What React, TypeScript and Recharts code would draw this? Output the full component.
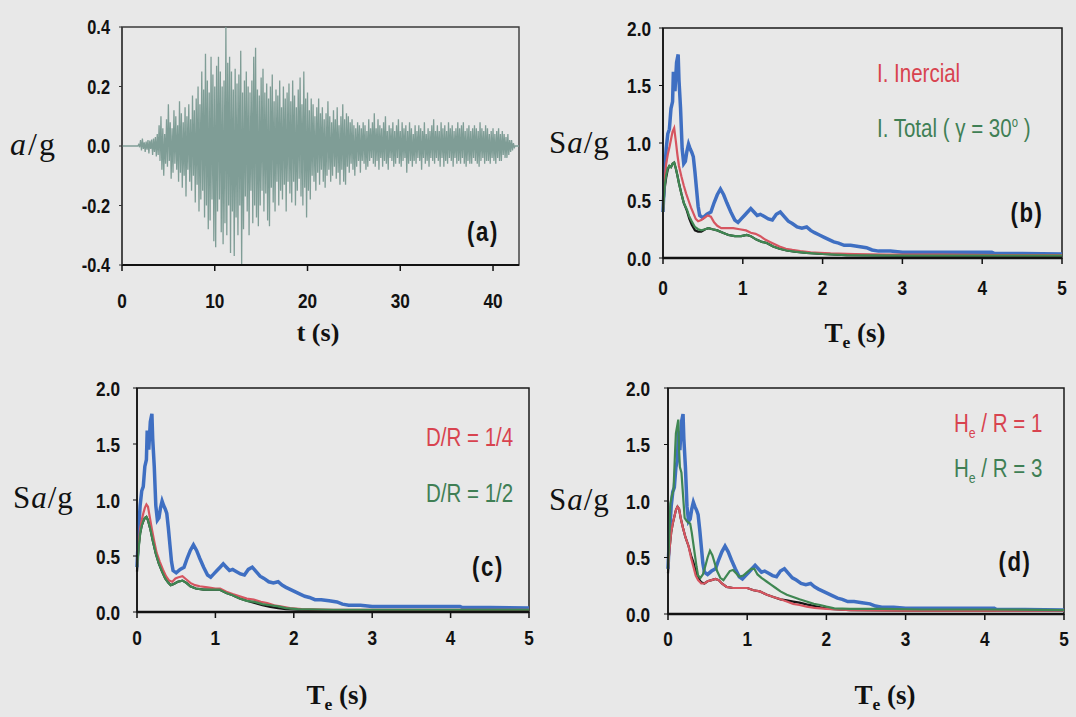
import { Line, LineChart, ReferenceArea, XAxis, YAxis } from "recharts";

const sans = "'Liberation Sans', Arial, sans-serif";
const serif = "'Liberation Serif', 'DejaVu Serif', serif";
const NARROW = 0.82; // Liberation Sans squeezed to look like Arial Narrow

// (a) ground acceleration, a/g, sampled every 0.1 s from t = 0
const accelStep = 0.1;
const accelValues = [
  0, 0, 0, 0, 0, 0, 0, 0, 0, 0, 0, 0, 0, 0, 0, 0, 0, 0, 0.005, -0.004,
  0.02, -0.015, 0.025, -0.01, 0.012, -0.02, 0.015, -0.012, 0.02, -0.025, 0.018, -0.01, 0.022, -0.03, 0.025, -0.02, 0.03, -0.035, 0.04, -0.03,
  0.07, -0.05, 0.1, -0.08, 0.06, -0.1, 0.04, -0.06, 0.09, -0.07, 0.14, -0.05, 0.08, -0.11, 0.06, -0.09, 0.12, -0.06, 0.1, -0.08,
  0.07, -0.12, 0.15, -0.09, 0.11, -0.14, 0.08, -0.1, 0.13, -0.17, 0.1, -0.08, 0.14, -0.12, 0.09, -0.15, 0.17, -0.1, 0.12, -0.19,
  0.16, -0.13, 0.2, -0.22, 0.14, -0.18, 0.25, -0.15, 0.19, -0.24, 0.31, -0.2, 0.22, -0.28, 0.18, -0.25, 0.3, -0.18, 0.24, -0.32,
  0.2, -0.34, 0.27, -0.22, 0.3, -0.18, 0.25, -0.29, 0.2, -0.33, 0.22, -0.26, 0.4, -0.3, 0.28, -0.2, 0.3, -0.36, 0.25, -0.22,
  0.19, -0.37, 0.26, -0.24, 0.21, -0.3, 0.24, -0.2, 0.32, -0.4, 0.18, -0.28, 0.22, -0.17, 0.25, -0.22, 0.2, -0.3, 0.18, -0.15,
  0.22, -0.26, 0.3, -0.2, 0.33, -0.24, 0.19, -0.27, 0.17, -0.2, 0.23, -0.15, 0.26, -0.22, 0.18, -0.16, 0.21, -0.25, 0.16, -0.27,
  0.2, -0.14, 0.24, -0.19, 0.15, -0.22, 0.19, -0.12, 0.17, -0.2, 0.22, -0.15, 0.13, -0.18, 0.2, -0.13, 0.16, -0.22, 0.18, -0.12,
  0.21, -0.16, 0.15, -0.19, 0.22, -0.12, 0.17, -0.2, 0.13, -0.15, 0.19, -0.11, 0.23, -0.17, 0.14, -0.2, 0.25, -0.14, 0.16, -0.24,
  0.18, -0.15, 0.12, -0.18, 0.16, -0.1, 0.14, -0.12, 0.1, -0.15, 0.13, -0.09, 0.16, -0.13, 0.11, -0.08, 0.13, -0.12, 0.09, -0.14,
  0.11, -0.1, 0.15, -0.08, 0.1, -0.12, 0.08, -0.1, 0.12, -0.07, 0.09, -0.11, 0.13, -0.09, 0.07, -0.13, 0.1, -0.08, 0.14, -0.12,
  0.09, -0.13, 0.11, -0.07, 0.1, -0.09, 0.08, -0.06, 0.09, -0.08, 0.07, -0.1, 0.06, -0.07, 0.08, -0.05, 0.07, -0.09, 0.06, -0.05,
  0.08, -0.06, 0.07, -0.08, 0.05, -0.07, 0.09, -0.05, 0.06, -0.04, 0.08, -0.06, 0.11, -0.07, 0.06, -0.05, 0.09, -0.08, 0.07, -0.04,
  0.06, -0.07, 0.08, -0.05, 0.1, -0.06, 0.05, -0.08, 0.07, -0.04, 0.06, -0.05, 0.08, -0.07, 0.05, -0.06, 0.07, -0.04, 0.09, -0.06,
  0.05, -0.07, 0.08, -0.05, 0.06, -0.04, 0.07, -0.09, 0.05, -0.06, 0.08, -0.05, 0.06, -0.07, 0.04, -0.05, 0.07, -0.06, 0.05, -0.04,
  0.07, -0.05, 0.06, -0.08, 0.05, -0.04, 0.08, -0.06, 0.04, -0.05, 0.06, -0.07, 0.05, -0.04, 0.07, -0.05, 0.09, -0.06, 0.05, -0.04,
  0.07, -0.05, 0.05, -0.07, 0.08, -0.04, 0.06, -0.07, 0.07, -0.05, 0.05, -0.06, 0.08, -0.04, 0.06, -0.05, 0.07, -0.07, 0.05, -0.04,
  0.06, -0.06, 0.08, -0.05, 0.06, -0.06, 0.07, -0.04, 0.08, -0.06, 0.05, -0.07, 0.06, -0.05, 0.07, -0.06, 0.05, -0.06, 0.06, -0.04,
  0.07, -0.05, 0.06, -0.06, 0.05, -0.07, 0.08, -0.05, 0.06, -0.04, 0.05, -0.06, 0.07, -0.05, 0.06, -0.05, 0.04, -0.06, 0.05, -0.04,
  0.06, -0.05, 0.04, -0.06, 0.05, -0.04, 0.06, -0.05, 0.04, -0.05, 0.05, -0.03, 0.04, -0.04, 0.03, -0.04, 0.04, -0.03, 0.02, -0.02,
  0.02, -0.015, 0.01, -0.005, 0, 0, 0, 0, 0,
];
const accelTicksX = [0, 10, 20, 30, 40];
const accelTicksY = [-0.4, -0.2, 0, 0.2, 0.4];

const periodTicks = [0, 1, 2, 3, 4, 5];
const saTicks = [0, 0.5, 1, 1.5, 2];

// spectra: [Te (s), Sa/g]
const blueSa: [number, number][] = [
  [0, 0.4], [0.02, 0.72], [0.04, 0.95], [0.06, 1.08], [0.08, 1.12], [0.1, 1.3], [0.12, 1.36], [0.13, 1.62],
  [0.15, 1.45], [0.17, 1.7], [0.19, 1.77], [0.2, 1.55], [0.22, 1.3], [0.24, 0.95], [0.26, 0.82], [0.28, 0.84],
  [0.3, 0.93], [0.32, 0.99], [0.34, 0.95], [0.36, 0.92], [0.38, 0.88], [0.4, 0.75], [0.42, 0.6], [0.44, 0.45],
  [0.46, 0.37], [0.5, 0.35], [0.55, 0.38], [0.6, 0.4], [0.64, 0.48], [0.68, 0.55], [0.72, 0.6], [0.76, 0.55],
  [0.8, 0.48], [0.85, 0.4], [0.9, 0.33], [0.94, 0.31], [0.98, 0.34], [1.02, 0.37], [1.06, 0.4], [1.1, 0.43],
  [1.14, 0.4], [1.18, 0.37], [1.22, 0.38], [1.27, 0.36], [1.32, 0.34], [1.37, 0.33], [1.42, 0.38], [1.47, 0.4],
  [1.52, 0.36], [1.57, 0.32], [1.62, 0.3], [1.68, 0.27], [1.74, 0.26], [1.8, 0.27], [1.85, 0.24], [1.9, 0.22],
  [1.96, 0.2], [2.02, 0.18], [2.08, 0.16], [2.14, 0.14], [2.2, 0.13], [2.27, 0.11], [2.35, 0.11], [2.45, 0.1],
  [2.55, 0.09], [2.62, 0.07], [2.7, 0.06], [2.85, 0.06], [3, 0.05], [3.6, 0.05], [4.12, 0.05], [4.15, 0.04],
  [4.5, 0.04], [5, 0.035],
];

const redB: [number, number][] = [
  [0, 0.4], [0.02, 0.68], [0.04, 0.82], [0.06, 0.9], [0.08, 0.96], [0.1, 1.03], [0.12, 1.1], [0.14, 1.13],
  [0.16, 1.02], [0.18, 0.9], [0.2, 0.8], [0.23, 0.71], [0.26, 0.63], [0.29, 0.56], [0.32, 0.5], [0.35, 0.44],
  [0.38, 0.39], [0.41, 0.34], [0.44, 0.32], [0.48, 0.33], [0.52, 0.35], [0.56, 0.37], [0.6, 0.36], [0.64, 0.31],
  [0.68, 0.28], [0.73, 0.26], [0.8, 0.26], [0.88, 0.26], [0.96, 0.25], [1.04, 0.24], [1.1, 0.22], [1.16, 0.21],
  [1.22, 0.19], [1.28, 0.16], [1.34, 0.14], [1.4, 0.12], [1.46, 0.1], [1.54, 0.08], [1.62, 0.07], [1.72, 0.06],
  [1.85, 0.05], [1.96, 0.045], [2.1, 0.04], [2.4, 0.035], [2.8, 0.03], [3.5, 0.03], [4.2, 0.025], [5, 0.025],
];
const greenB: [number, number][] = [
  [0, 0.4], [0.02, 0.62], [0.04, 0.72], [0.06, 0.78], [0.08, 0.8], [0.1, 0.79], [0.12, 0.82], [0.14, 0.83],
  [0.16, 0.78], [0.18, 0.72], [0.2, 0.65], [0.23, 0.56], [0.26, 0.48], [0.3, 0.42], [0.33, 0.36], [0.36, 0.32],
  [0.4, 0.27], [0.44, 0.25], [0.48, 0.24], [0.53, 0.25], [0.57, 0.26], [0.62, 0.25], [0.68, 0.24], [0.75, 0.22],
  [0.82, 0.2], [0.9, 0.19], [0.98, 0.19], [1.05, 0.2], [1.1, 0.19], [1.17, 0.16], [1.24, 0.14], [1.3, 0.13],
  [1.38, 0.1], [1.46, 0.08], [1.55, 0.065], [1.65, 0.055], [1.8, 0.045], [2, 0.035], [2.3, 0.025], [3, 0.02],
  [4, 0.02], [5, 0.02],
];
const blackB: [number, number][] = [
  [0, 0.4], [0.02, 0.6], [0.04, 0.7], [0.06, 0.77], [0.08, 0.8], [0.1, 0.79], [0.12, 0.82], [0.14, 0.83],
  [0.16, 0.78], [0.18, 0.72], [0.2, 0.65], [0.23, 0.56], [0.26, 0.48], [0.3, 0.41], [0.33, 0.34], [0.36, 0.29],
  [0.4, 0.24], [0.44, 0.23], [0.48, 0.23], [0.53, 0.25], [0.57, 0.26], [0.62, 0.25], [0.68, 0.24], [0.75, 0.22],
  [0.82, 0.2], [0.9, 0.19], [0.98, 0.19], [1.05, 0.2], [1.1, 0.19], [1.17, 0.16], [1.24, 0.14], [1.3, 0.13],
  [1.38, 0.1], [1.46, 0.08], [1.55, 0.065], [1.65, 0.055], [1.8, 0.045], [2, 0.035], [2.3, 0.025], [3, 0.02],
  [4, 0.02], [5, 0.02],
];

const redC: [number, number][] = [
  [0, 0.4], [0.02, 0.6], [0.04, 0.74], [0.06, 0.82], [0.08, 0.88], [0.1, 0.93], [0.12, 0.96], [0.14, 0.94],
  [0.16, 0.86], [0.19, 0.74], [0.22, 0.63], [0.25, 0.53], [0.29, 0.45], [0.33, 0.38], [0.37, 0.32], [0.41, 0.28],
  [0.45, 0.27], [0.49, 0.3], [0.53, 0.31], [0.58, 0.32], [0.63, 0.29], [0.68, 0.26], [0.74, 0.24], [0.8, 0.23],
  [0.9, 0.22], [1, 0.21], [1.06, 0.21], [1.14, 0.18], [1.22, 0.16], [1.31, 0.14], [1.4, 0.12], [1.49, 0.11],
  [1.58, 0.09], [1.66, 0.08], [1.75, 0.06], [1.83, 0.05], [1.95, 0.035], [2.1, 0.025], [2.5, 0.02], [3.5, 0.02],
  [5, 0.02],
];
const greenC: [number, number][] = [
  [0, 0.4], [0.02, 0.56], [0.04, 0.7], [0.06, 0.77], [0.08, 0.81], [0.1, 0.84], [0.12, 0.85], [0.14, 0.82],
  [0.17, 0.74], [0.2, 0.64], [0.24, 0.52], [0.28, 0.43], [0.32, 0.36], [0.36, 0.3], [0.4, 0.26], [0.43, 0.24],
  [0.47, 0.25], [0.52, 0.27], [0.58, 0.28], [0.63, 0.26], [0.68, 0.23], [0.75, 0.21], [0.85, 0.2], [0.95, 0.2],
  [1.05, 0.2], [1.14, 0.17], [1.22, 0.15], [1.31, 0.12], [1.4, 0.1], [1.5, 0.09], [1.6, 0.07], [1.7, 0.06],
  [1.8, 0.05], [1.9, 0.035], [2.05, 0.025], [2.5, 0.02], [5, 0.02],
];
const blackC: [number, number][] = [
  [0, 0.36], [0.01, 0.48], [0.02, 0.58], [0.04, 0.7], [0.06, 0.77], [0.08, 0.81], [0.1, 0.84], [0.12, 0.85],
  [0.14, 0.82], [0.17, 0.74], [0.2, 0.64], [0.24, 0.52], [0.28, 0.43], [0.32, 0.36], [0.36, 0.3], [0.4, 0.26],
  [0.43, 0.24], [0.47, 0.25], [0.52, 0.27], [0.58, 0.28], [0.63, 0.26], [0.68, 0.23], [0.75, 0.21], [0.85, 0.2],
  [0.95, 0.2], [1.05, 0.2], [1.14, 0.17], [1.22, 0.15], [1.31, 0.12], [1.4, 0.1], [1.5, 0.08], [1.6, 0.06],
  [1.7, 0.045], [1.8, 0.035], [1.9, 0.025], [2.05, 0.02], [2.5, 0.015], [5, 0.015],
];

const redD: [number, number][] = [
  [0, 0.4], [0.02, 0.58], [0.04, 0.72], [0.06, 0.8], [0.08, 0.86], [0.1, 0.92], [0.12, 0.95], [0.14, 0.93],
  [0.16, 0.85], [0.19, 0.76], [0.22, 0.68], [0.26, 0.6], [0.29, 0.5], [0.32, 0.42], [0.35, 0.34], [0.38, 0.3],
  [0.42, 0.27], [0.46, 0.27], [0.5, 0.29], [0.55, 0.3], [0.6, 0.31], [0.64, 0.3], [0.68, 0.27], [0.74, 0.24],
  [0.82, 0.23], [0.9, 0.23], [1, 0.23], [1.08, 0.21], [1.16, 0.2], [1.25, 0.17], [1.33, 0.15], [1.42, 0.13],
  [1.5, 0.11], [1.58, 0.09], [1.66, 0.08], [1.75, 0.065], [1.85, 0.055], [2, 0.045], [2.3, 0.035], [3, 0.03],
  [4, 0.03], [5, 0.03],
];
const greenD: [number, number][] = [
  [0, 0.4], [0.02, 0.75], [0.03, 0.98], [0.05, 1.05], [0.07, 1.1], [0.09, 1.45], [0.1, 1.6], [0.12, 1.68],
  [0.13, 1.72], [0.14, 1.45], [0.15, 1.3], [0.17, 1.25], [0.19, 1.05], [0.21, 0.85], [0.24, 0.82], [0.28, 0.8],
  [0.3, 0.72], [0.32, 0.62], [0.34, 0.52], [0.36, 0.42], [0.38, 0.34], [0.41, 0.32], [0.44, 0.35], [0.47, 0.42],
  [0.5, 0.5], [0.53, 0.56], [0.56, 0.52], [0.59, 0.45], [0.62, 0.38], [0.66, 0.32], [0.7, 0.3], [0.74, 0.34],
  [0.78, 0.38], [0.82, 0.39], [0.86, 0.36], [0.9, 0.33], [0.95, 0.34], [1, 0.37], [1.05, 0.4], [1.09, 0.4],
  [1.13, 0.35], [1.18, 0.32], [1.24, 0.29], [1.3, 0.26], [1.36, 0.23], [1.42, 0.2], [1.5, 0.17], [1.58, 0.15],
  [1.66, 0.13], [1.75, 0.11], [1.84, 0.09], [1.92, 0.08], [2, 0.065], [2.1, 0.05], [2.3, 0.045], [2.7, 0.045],
  [3.2, 0.04], [4, 0.04], [5, 0.035],
];
const blackD: [number, number][] = [
  [0, 0.36], [0.01, 0.5], [0.02, 0.58], [0.04, 0.72], [0.06, 0.8], [0.08, 0.86], [0.1, 0.92], [0.12, 0.95],
  [0.14, 0.93], [0.16, 0.85], [0.19, 0.76], [0.22, 0.68], [0.26, 0.6], [0.29, 0.52], [0.32, 0.46], [0.35, 0.38],
  [0.38, 0.32], [0.42, 0.28], [0.46, 0.27], [0.5, 0.29], [0.55, 0.3], [0.6, 0.31], [0.64, 0.3], [0.68, 0.27],
  [0.74, 0.24], [0.82, 0.23], [0.9, 0.23], [1, 0.23], [1.08, 0.21], [1.16, 0.2], [1.25, 0.17], [1.33, 0.15],
  [1.42, 0.13], [1.5, 0.12], [1.58, 0.11], [1.66, 0.1], [1.75, 0.085], [1.85, 0.07], [1.95, 0.055], [2.05, 0.045],
  [2.3, 0.035], [3, 0.03], [4, 0.03], [5, 0.03],
];

const BLUE = "#3f6fc2";
const RED = "#d65560";
const GREEN = "#3f8752";
const BLACK = "#151515";
const RED_TEXT = "#d8434f";
const GREEN_TEXT = "#3f7f55";

const toPoints = (pairs: [number, number][]) => pairs.map(([t, v]) => ({ t, v }));
const accelData = accelValues.map((v, i) => ({ t: Math.round(i * accelStep * 10) / 10, v }));

const fmt1 = (v: number) => v.toFixed(1);
const fmt0 = (v: number) => String(v);

// bold condensed tick label, squeezed horizontally around its anchor point
function NarrowTick(props: any) {
  const { x, y, payload, anchor, dy, size, format } = props;
  return (
    <text
      transform={`translate(${x},${y}) scale(${NARROW},1)`}
      textAnchor={anchor} dy={dy} fontSize={size} fontFamily={sans} fontWeight={700} fill="#111"
    >
      {format(payload.value)}
    </text>
  );
}
const xTick = (size: number, format: (v: number) => string) => (p: any) => (
  <NarrowTick {...p} anchor="middle" dy="0.71em" size={size} format={format} />
);
const yTick = (size: number, format: (v: number) => string) => (p: any) => (
  <NarrowTick {...p} anchor="end" dy="0.36em" size={size} format={format} />
);

type Series = { name: string; pairs: [number, number][]; color: string; width: number };

function SpectrumPanel(props: {
  left: number; top: number; width: number; height: number;
  margin: { top: number; right: number; left: number; bottom: number };
  yWidth: number; xHeight: number; yGap: number; xGap: number; series: Series[];
}) {
  const { left, top, width, height, margin, yWidth, xHeight, yGap, xGap, series } = props;
  return (
    <div style={{ position: "absolute", left, top }}>
      <LineChart width={width} height={height} margin={margin}>
        <XAxis
          type="number" dataKey="t" domain={[0, 5]} ticks={periodTicks} interval={0} height={xHeight}
          tick={xTick(21, fmt0)} tickSize={6} tickMargin={xGap}
          axisLine={{ stroke: "#111", strokeWidth: 2.5 }} tickLine={{ stroke: "#111", strokeWidth: 1.5 }}
        />
        <YAxis
          type="number" domain={[0, 2]} ticks={saTicks} interval={0} width={yWidth}
          tick={yTick(21, fmt1)} tickSize={4} tickMargin={yGap}
          axisLine={{ stroke: "#111", strokeWidth: 1.5 }} tickLine={{ stroke: "#111", strokeWidth: 1 }}
        />
        <ReferenceArea x1={0} x2={5} y1={0} y2={2} fill="none" stroke="#1a1a1a" strokeWidth={1.5} />
        {series.map((s) => (
          <Line
            key={s.name} data={toPoints(s.pairs)} dataKey="v" name={s.name} type="linear"
            stroke={s.color} strokeWidth={s.width} dot={false} isAnimationActive={false}
          />
        ))}
      </LineChart>
    </div>
  );
}

function Txt(props: {
  x: number; y: number; size: number; children: React.ReactNode; color?: string;
  family?: string; weight?: number; center?: boolean; spacing?: number; squeeze?: number;
}) {
  const { x, y, size, children, color = "#111", family = sans, weight = 400, center = false, spacing = 0, squeeze = 1 } = props;
  return (
    <div
      style={{
        position: "absolute", left: x, top: y,
        transform: `${center ? "translate(-50%, -50%)" : "translateY(-50%)"} scaleX(${squeeze})`,
        transformOrigin: center ? "center center" : "left center",
        fontSize: size, fontFamily: family, fontWeight: weight, color, lineHeight: 1, whiteSpace: "nowrap",
        letterSpacing: spacing,
      }}
    >
      {children}
    </div>
  );
}

const saLabel = <>S<i>a</i>/g</>;
const teLabel = <>T<sub style={{ fontSize: "0.65em" }}>e</sub> (s)</>;
const sub = (s: string) => <sub style={{ fontSize: "0.6em" }}>{s}</sub>;

export default function App() {
  return (
    <div style={{ position: "absolute", left: 0, top: 0, width: 1076, height: 717, background: "#e8e8e8", overflow: "hidden" }}>
      {/* (a) accelerogram */}
      <div style={{ position: "absolute", left: 0, top: 0 }}>
        <LineChart width={540} height={340} data={accelData} margin={{ top: 27, right: 21, left: 0, bottom: 0 }}>
          <XAxis
            type="number" dataKey="t" domain={[0, 42.8]} ticks={accelTicksX} interval={0} height={75}
            tick={xTick(21, fmt0)} tickSize={6} tickMargin={22}
            axisLine={{ stroke: "#111", strokeWidth: 2 }} tickLine={{ stroke: "#111", strokeWidth: 1.5 }}
          />
          <YAxis
            type="number" domain={[-0.4, 0.4]} ticks={accelTicksY} interval={0} width={122}
            tick={yTick(20, fmt1)} tickSize={3} tickMargin={9}
            axisLine={{ stroke: "#333", strokeWidth: 1.2 }} tickLine={{ stroke: "#333", strokeWidth: 1 }}
          />
          <ReferenceArea x1={0} x2={42.8} y1={-0.4} y2={0.4} fill="none" stroke="#3a3a3a" strokeWidth={1.4} />
          <Line dataKey="v" type="linear" stroke="#7f9d96" strokeWidth={1.3} dot={false} isAnimationActive={false} />
        </LineChart>
      </div>
      <Txt x={10} y={144} size={32} family={serif} spacing={2}><i>a</i>/g</Txt>
      <Txt x={318} y={333} size={26} family={serif} weight={700} center>t (s)</Txt>
      <Txt x={483} y={232} size={27} weight={700} center spacing={2} squeeze={NARROW}>(a)</Txt>

      {/* (b) */}
      <SpectrumPanel
        left={540} top={0} width={536} height={360}
        margin={{ top: 28, right: 14, left: 0, bottom: 0 }} yWidth={123} xHeight={102} yGap={8} xGap={16}
        series={[
          { name: "base", pairs: blackB, color: BLACK, width: 2.2 },
          { name: "blue", pairs: blueSa, color: BLUE, width: 3.5 },
          { name: "I. Inercial", pairs: redB, color: RED, width: 2.2 },
          { name: "I. Total", pairs: greenB, color: GREEN, width: 2.2 },
        ]}
      />
      <Txt x={549} y={142} size={31} family={serif} spacing={1}>{saLabel}</Txt>
      <Txt x={855} y={336} size={27} family={serif} weight={700} center>{teLabel}</Txt>
      <Txt x={1027} y={213} size={27} weight={700} center spacing={2} squeeze={NARROW}>(b)</Txt>
      <Txt x={877} y={73} size={25} color={RED_TEXT} squeeze={NARROW}>I. Inercial</Txt>
      <Txt x={877} y={128} size={25} color={GREEN_TEXT} squeeze={NARROW}>
        I. Total ( γ = 30<sup style={{ fontSize: "0.55em" }}>o</sup> )
      </Txt>

      {/* (c) */}
      <SpectrumPanel
        left={0} top={360} width={540} height={357}
        margin={{ top: 28, right: 11, left: 0, bottom: 0 }} yWidth={137} xHeight={105} yGap={13} xGap={12}
        series={[
          { name: "base", pairs: blackC, color: BLACK, width: 2.2 },
          { name: "blue", pairs: blueSa, color: BLUE, width: 3.5 },
          { name: "D/R = 1/4", pairs: redC, color: RED, width: 2.2 },
          { name: "D/R = 1/2", pairs: greenC, color: GREEN, width: 2.2 },
        ]}
      />
      <Txt x={13} y={497} size={31} family={serif} spacing={1}>{saLabel}</Txt>
      <Txt x={337} y={698} size={27} family={serif} weight={700} center>{teLabel}</Txt>
      <Txt x={488} y={567} size={27} weight={700} center spacing={2} squeeze={NARROW}>(c)</Txt>
      <Txt x={426} y={437} size={25} color={RED_TEXT} squeeze={NARROW}>D/R = 1/4</Txt>
      <Txt x={426} y={493} size={25} color={GREEN_TEXT} squeeze={NARROW}>D/R = 1/2</Txt>

      {/* (d) */}
      <SpectrumPanel
        left={540} top={360} width={536} height={357}
        margin={{ top: 28, right: 12, left: 0, bottom: 0 }} yWidth={128} xHeight={103} yGap={14} xGap={11}
        series={[
          { name: "base", pairs: blackD, color: BLACK, width: 2.2 },
          { name: "blue", pairs: blueSa, color: BLUE, width: 3.5 },
          { name: "He / R = 1", pairs: redD, color: RED, width: 2.2 },
          { name: "He / R = 3", pairs: greenD, color: GREEN, width: 2.2 },
        ]}
      />
      <Txt x={549} y={499} size={31} family={serif} spacing={1}>{saLabel}</Txt>
      <Txt x={885} y={698} size={27} family={serif} weight={700} center>{teLabel}</Txt>
      <Txt x={1015} y={562} size={27} weight={700} center spacing={2} squeeze={NARROW}>(d)</Txt>
      <Txt x={954} y={425} size={25} color={RED_TEXT} squeeze={NARROW}>H{sub("e")} / R = 1</Txt>
      <Txt x={954} y={470} size={25} color={GREEN_TEXT} squeeze={NARROW}>H{sub("e")} / R = 3</Txt>
    </div>
  );
}
